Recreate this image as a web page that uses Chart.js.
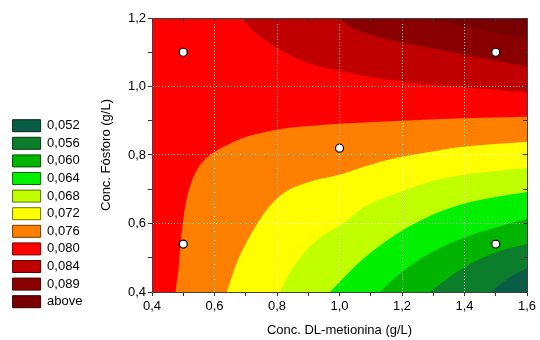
<!DOCTYPE html>
<html>
<head>
<meta charset="utf-8">
<script src="https://cdn.jsdelivr.net/npm/chart.js@4.4.1/dist/chart.umd.min.js"></script>
<style>
html,body{margin:0;padding:0;background:#fff;}
</style>
</head>
<body>
<canvas id="c" width="540" height="340"></canvas>
<script>
// legend levels, low to high
const levels = ['0,052','0,056','0,060','0,064','0,068','0,072','0,076','0,080','0,084','0,089','above'];
const bandColors = ['#0a5d45','#0b7d2b','#00b400','#00f000','#c0ff00','#ffff00','#ff8000','#ff0000','#c00000','#8a0000','#780000'];

// contour lines: [DL-metionina, Fosforo]
// lower side (region under the line is the lower band)
const line080 = [[0.475,0.400],[0.485,0.470],[0.491,0.537],[0.498,0.596],[0.507,0.654],[0.520,0.704],[0.539,0.748],[0.565,0.783],[0.600,0.809],[0.655,0.836],[0.712,0.856],[0.818,0.877],[0.905,0.885],[1.000,0.891],[1.184,0.899],[1.395,0.907],[1.600,0.912]];
const line076 = [[0.639,0.400],[0.655,0.444],[0.671,0.485],[0.712,0.561],[0.767,0.640],[0.818,0.687],[0.905,0.722],[1.000,0.742],[1.075,0.765],[1.184,0.792],[1.289,0.809],[1.395,0.824],[1.600,0.839]];
const line072 = [[0.809,0.400],[0.841,0.456],[0.895,0.523],[0.946,0.564],[1.000,0.593],[1.075,0.646],[1.184,0.689],[1.289,0.722],[1.395,0.742],[1.600,0.763]];
const line068 = [[0.969,0.400],[1.000,0.429],[1.075,0.496],[1.184,0.570],[1.289,0.622],[1.395,0.657],[1.504,0.678],[1.600,0.692]];
const line064 = [[1.129,0.400],[1.184,0.447],[1.289,0.514],[1.395,0.558],[1.504,0.590],[1.600,0.613]];
const line060 = [[1.289,0.400],[1.395,0.470],[1.504,0.517],[1.600,0.540]];
const line056 = [[1.482,0.400],[1.546,0.444],[1.600,0.470]];
// upper side (region above the line is the higher band)
const line084 = [[0.690,1.200],[0.719,1.166],[0.745,1.146],[0.799,1.113],[0.895,1.070],[1.000,1.046],[1.129,1.023],[1.289,1.005],[1.450,0.994],[1.600,0.982]];
const line089 = [[1.000,1.200],[1.033,1.175],[1.129,1.143],[1.289,1.113],[1.450,1.084],[1.600,1.058]];
const lineAbove = [[1.273,1.200],[1.386,1.178],[1.498,1.157],[1.600,1.137]];
const fullTop = [[0.4,1.2],[1.6,1.2]];

// experimental points
const expX = [0.5, 1.5, 1.0, 0.5, 1.5];
const expY = [1.1, 1.1, 0.82, 0.54, 0.54];

Chart.defaults.font.family = "'Liberation Sans', Arial, sans-serif";
Chart.defaults.font.size = 13;
Chart.defaults.color = '#000';

function band(pts, color, fill, order){
    return {
        data: pts.map(p => ({x: p[0], y: p[1]})),
        showLine: true,
        fill: fill,
        backgroundColor: color,
        borderColor: 'transparent',
        borderWidth: 0,
        pointRadius: 0,
        cubicInterpolationMode: 'monotone',
        order: order
    };
}

function darker(hex){
    var n = parseInt(hex.slice(1), 16);
    var r = (n >> 16) & 255, g = (n >> 8) & 255, b = n & 255;
    return 'rgb(' + Math.round(r*0.45) + ',' + Math.round(g*0.45) + ',' + Math.round(b*0.45) + ')';
}

function tickText(v){
    var k = Math.round(v * 10);
    if (k % 2 != 0) return '';
    return (k / 10).toFixed(1).replace('.', ',');
}

function gridColor(min, max){
    return function(ctx){
        var v = ctx.tick ? ctx.tick.value : 0;
        var k = Math.round(v * 10);
        if (k % 2 != 0 || Math.abs(v - min) < 1e-6 || Math.abs(v - max) < 1e-6) return 'rgba(0,0,0,0)';
        return 'rgba(255,255,255,0.8)';
    };
}

var datasets = [
    band(fullTop, bandColors[7], 'start', 30),
    band(line080, bandColors[6], 'start', 20),
    band(line076, bandColors[5], 'start', 19),
    band(line072, bandColors[4], 'start', 18),
    band(line068, bandColors[3], 'start', 17),
    band(line064, bandColors[2], 'start', 16),
    band(line060, bandColors[1], 'start', 15),
    band(line056, bandColors[0], 'start', 14),
    band(line084, bandColors[8], 'end', 20),
    band(line089, bandColors[9], 'end', 19),
    band(lineAbove, bandColors[10], 'end', 18),
    {
        data: expX.map((x, i) => ({x: x, y: expY[i]})),
        showLine: false,
        pointRadius: 4,
        pointBackgroundColor: '#fff',
        pointBorderColor: '#000',
        pointBorderWidth: 1.2,
        order: 0
    }
];

var ctx = document.getElementById('c').getContext('2d');
var chart = new Chart(ctx, {
    type: 'scatter',
    data: { datasets: datasets },
    options: {
        responsive: false,
        animation: false,
        layout: { padding: { left: 8, right: 13, top: 18, bottom: 0 } },
        plugins: {
            tooltip: { enabled: false },
            legend: {
                position: 'left',
                align: 'start',
                onClick: null,
                title: { display: true, text: '', padding: { top: 0, bottom: 81 } },
                labels: {
                    boxWidth: 28,
                    boxHeight: 12,
                    padding: 4.6,
                    color: '#000',
                    font: { size: 13 },
                    generateLabels: function(){
                        return levels.map(function(t, i){
                            return { text: t, fillStyle: bandColors[i], strokeStyle: darker(bandColors[i]), lineWidth: 1, hidden: false, datasetIndex: i };
                        });
                    }
                }
            }
        },
        scales: {
            x: {
                type: 'linear', min: 0.4, max: 1.6,
                ticks: { stepSize: 0.1, autoSkip: false, maxRotation: 0, padding: 3, callback: tickText },
                grid: { z: 1, color: gridColor(0.4, 1.6), tickColor: '#333', tickLength: 4, tickBorderDash: [] },
                border: { z: 1, color: '#404040', width: 1, dash: [1, 2] },
                title: { display: true, text: 'Conc. DL-metionina (g/L)', padding: { top: 4, bottom: 2 } },
                afterFit: function(s){ s.height = 48; }
            },
            y: {
                type: 'linear', min: 0.4, max: 1.2,
                ticks: { stepSize: 0.1, autoSkip: false, padding: 2, callback: tickText },
                grid: { z: 1, color: gridColor(0.4, 1.2), tickColor: '#333', tickLength: 4, tickBorderDash: [] },
                border: { z: 1, color: '#404040', width: 1, dash: [1, 2] },
                title: { display: true, text: 'Conc. Fósforo (g/L)', padding: { top: 6, bottom: 4 } },
                afterFit: function(s){ s.width = 59.5; }
            },
            x2: {
                type: 'linear', position: 'top', min: 0.4, max: 1.6,
                ticks: { display: false, stepSize: 0.1 },
                grid: { z: 1, drawOnChartArea: false, tickLength: -4, tickColor: '#333' },
                border: { z: 1, color: '#404040', width: 1 },
                afterFit: function(s){ s.height = 0; }
            },
            y2: {
                type: 'linear', position: 'right', min: 0.4, max: 1.2,
                ticks: { display: false, stepSize: 0.1 },
                grid: { z: 1, drawOnChartArea: false, tickLength: -4, tickColor: '#333' },
                border: { z: 1, color: '#404040', width: 1 },
                afterFit: function(s){ s.width = 0; }
            }
        }
    }
});
</script>
</body>
</html>
